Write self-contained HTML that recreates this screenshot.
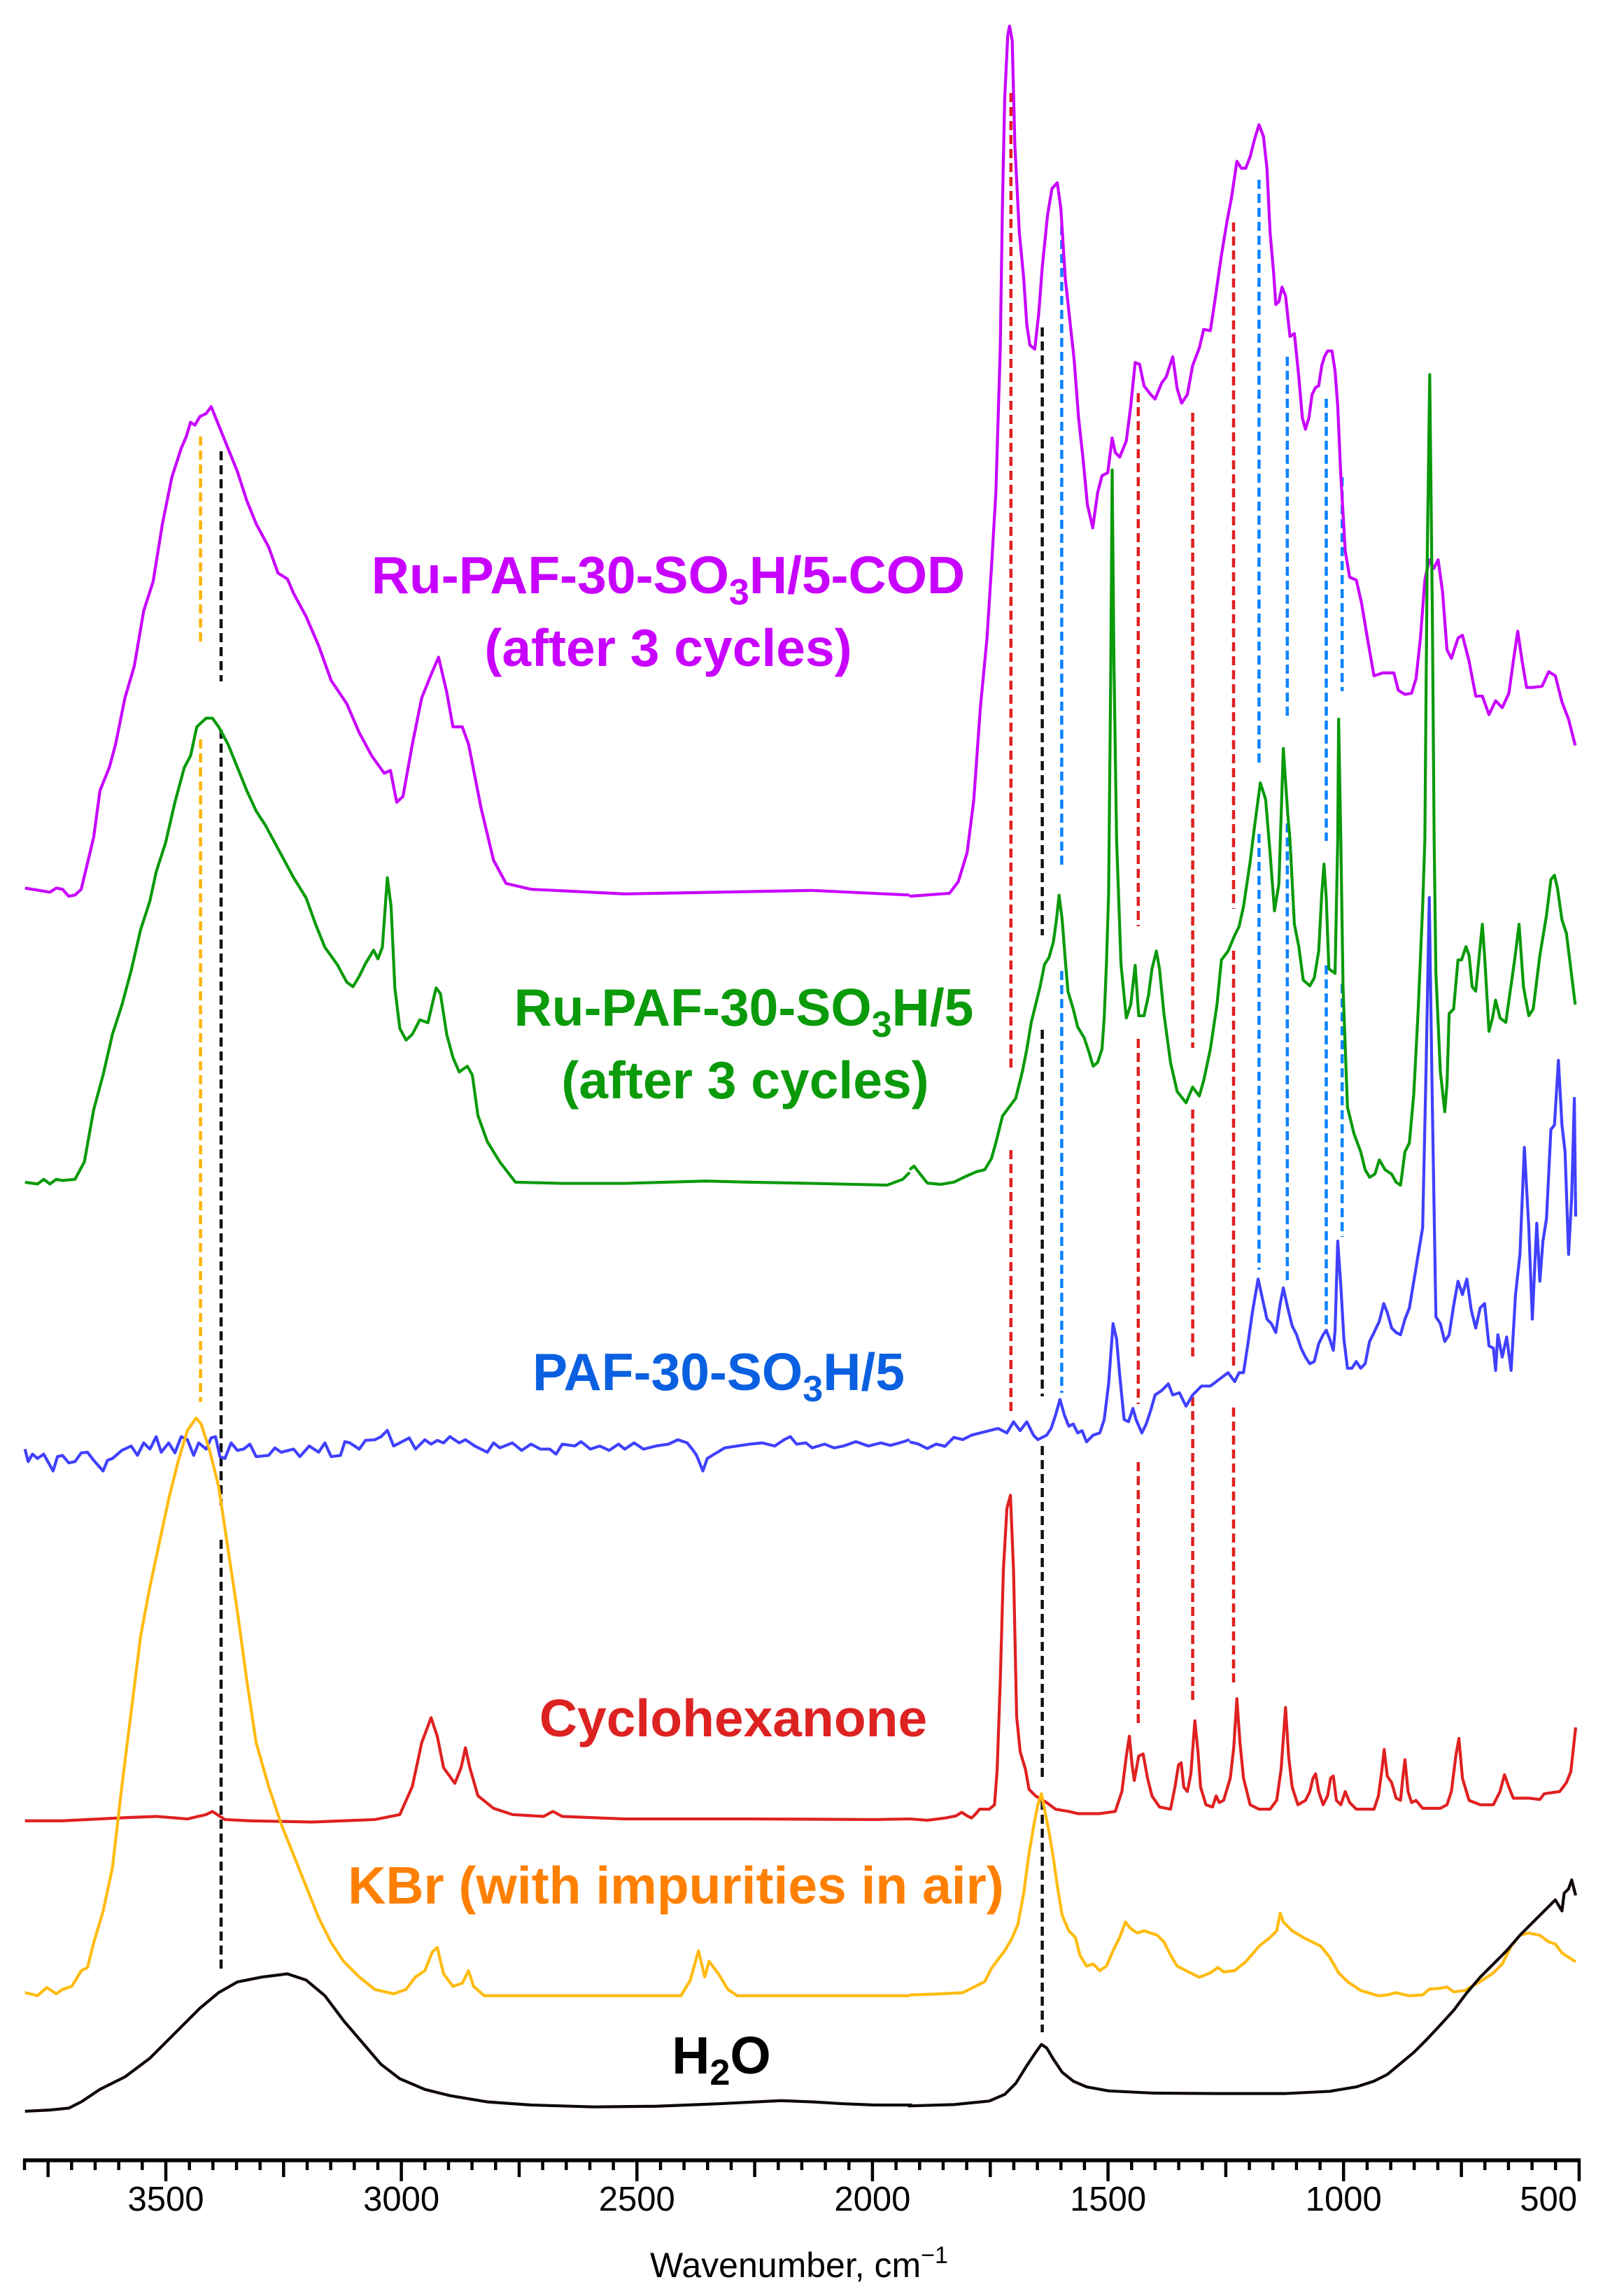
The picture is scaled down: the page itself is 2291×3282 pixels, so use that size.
<!DOCTYPE html>
<html><head><meta charset="utf-8"><style>
html,body{margin:0;padding:0;background:#fff;}
svg{display:block;}
text{font-family:"Liberation Sans",Arial,sans-serif;}
.c{fill:none;stroke-width:4.2;stroke-linejoin:round;vector-effect:non-scaling-stroke;}
.d{fill:none;stroke-width:4.5;stroke-dasharray:13 7;}
.lb{font-weight:bold;font-size:75px;text-anchor:middle;}
</style></head><body>
<svg width="2291" height="3282" viewBox="0 0 2291 3282" xmlns="http://www.w3.org/2000/svg">
<rect width="2291" height="3282" fill="#fff"/>

<g class="d" stroke="#ffb400">
<path d="M286.6 624V923M286.6 1057V2004"/>
</g>
<g class="d" stroke="#111">
<path d="M316 645V974M316 1043V2152M316 2201V2821"/>
<path d="M1489.6 468V1337M1489.6 1472V1996M1489.6 2067V2542M1489.6 2574V2905"/>
</g>
<g class="d" stroke="#e02020">
<path d="M1444.8 133V1528M1444.8 1644V2018"/>
<path d="M1626.8 562V1324M1626.8 1485V2007M1626.8 2090V2469"/>
<path d="M1704.6 590V1498M1704.6 1586V1946M1704.6 1997V2434"/>
<path d="M1763 318V1299M1763 1359V1959M1763 2012V2406"/>
</g>
<g class="d" stroke="#0a84ff">
<path d="M1517.4 323V1242M1517.4 1388V1991"/>
<path d="M1799.4 257V1095M1799.4 1192V1815"/>
<path d="M1839.8 510V1024M1839.8 1177V1835"/>
<path d="M1895.5 570V1202M1895.5 1380V1902"/>
<path d="M1918.2 682V988M1918.2 1407V1768"/>
</g>

<g transform="translate(0,500) scale(0.8929,0.8292)">
<path class="c" stroke="#c800ff" d="M40 928L80 935L90 928L100 930L110 942L120 940L130 930L150 840L160 760L175 720L185 680L200 600L215 545L230 450L245 400L260 300L275 220L290 170L298 150L305 125L312 130L320 115L330 110L338 98L350 130L365 170L380 210L395 260L410 300L420 320L430 340L445 385L460 395L470 420L490 460L510 510L530 570L555 610L575 660L595 700L615 730L625 725L635 780L645 770L660 680L675 600L690 560L702 530L715 590L725 650L740 650L750 680L770 790L790 880L810 920L850 930L1000 938L1300 932L1456 940"/>
</g>
<g transform="translate(1300,0) scale(0.6321,0.8292)">
<path class="c" stroke="#c800ff" d="M0 1545L90 1540L110 1520L130 1470L145 1380L160 1220L175 1100L185 980L195 850L205 600L210 350L215 170L222 60L226 45L232 70L238 250L248 400L258 480L265 560L272 595L283 602L292 540L300 460L312 370L322 325L334 315L342 360L352 480L362 550L372 620L382 720L392 790L402 870L414 910L425 850L435 820L448 815L458 755L465 780L475 788L490 760L500 700L510 625L520 628L530 665L545 680L555 688L570 660L580 650L595 615L605 670L615 695L628 680L640 630L655 600L665 568L680 570L690 520L705 440L718 380L728 340L740 278L750 290L760 290L770 270L780 240L790 215L800 235L808 290L815 400L823 470L828 525L835 520L842 495L850 510L860 580L870 575L880 650L888 720L895 740L903 720L910 680L918 668L925 665L932 630L938 615L945 605L955 605L962 640L968 700L975 820L985 950L995 995L1010 1000L1022 1040L1035 1100L1050 1165L1070 1160L1095 1160L1105 1190L1120 1197L1135 1195L1145 1170L1155 1100L1165 1000L1175 965L1185 980L1195 965L1205 1020L1215 1120L1225 1135L1240 1100L1250 1095L1265 1140L1280 1200L1295 1200L1310 1232L1325 1208L1340 1220L1355 1195L1365 1140L1375 1088L1385 1140L1395 1185L1410 1185L1430 1183L1445 1158L1460 1165L1475 1210L1490 1240L1505 1285"/>
</g>

<g transform="translate(0,500) scale(0.8929,0.8292)">
<path class="c" stroke="#0a9a0a" d="M40 1435L60 1438L70 1430L80 1438L90 1430L100 1432L120 1430L135 1400L150 1310L165 1250L180 1180L195 1130L210 1070L225 1000L240 950L250 900L265 850L280 780L295 720L305 700L315 650L330 635L340 635L350 650L365 680L380 720L395 760L410 795L425 820L440 850L455 880L470 910L490 945L505 990L520 1030L540 1060L555 1090L565 1098L575 1080L585 1058L598 1035L605 1050L612 1030L620 910L626 960L632 1100L640 1170L650 1190L660 1180L672 1155L685 1160L698 1100L705 1110L715 1180L725 1220L735 1245L748 1235L756 1250L765 1320L780 1365L800 1400L825 1435L900 1437L1000 1437L1130 1433L1200 1435L1300 1437L1420 1440L1445 1430L1456 1418"/>
</g>
<g transform="translate(1300,1200) scale(0.6321,0.6378)">
<path class="c" stroke="#0a9a0a" d="M0 740L10 732L20 745L40 770L70 773L100 768L125 756L150 745L170 740L185 715L195 680L210 620L225 600L240 580L255 520L265 470L275 410L285 370L295 330L305 280L315 265L325 230L332 180L338 125L345 180L352 270L358 340L370 380L380 420L395 445L405 475L415 508L425 500L435 470L440 400L445 280L450 120L455 -400L458 -828L462 -400L468 0L478 280L490 400L500 370L510 282L518 395L530 395L540 350L548 290L558 250L565 290L575 390L590 500L605 565L625 590L640 555L655 575L665 540L680 470L695 370L705 270L720 250L735 215L745 195L755 150L770 50L780 -30L793 -127L805 -90L815 30L825 160L835 100L845 -204L855 -57L860 0L870 190L880 240L890 315L905 328L915 310L925 250L932 120L937 55L942 130L948 290L962 300L968 0L970 -270L975 0L980 330L990 600L1005 660L1020 700L1030 740L1040 757L1052 750L1062 718L1075 740L1090 750L1100 768L1110 775L1120 700L1130 680L1140 570L1150 380L1160 150L1165 0L1170 -600L1176 -1042L1182 -500L1186 0L1190 300L1200 520L1210 610L1215 550L1220 390L1230 380L1240 270L1248 270L1258 240L1265 260L1272 330L1280 340L1295 190L1300 260L1310 430L1318 400L1325 360L1335 400L1348 410L1358 340L1368 270L1378 190L1388 330L1400 395L1410 380L1425 260L1440 170L1450 90L1458 80L1465 110L1475 180L1485 210L1495 290L1505 370"/>
</g>

<g transform="translate(0,1750) scale(0.8929)">
<path class="c" stroke="#4040ff" d="M40 360L45 380L52 368L60 375L70 368L85 395L92 372L100 370L110 382L120 380L130 366L140 365L150 378L165 395L172 378L180 375L195 362L210 355L220 370L230 350L240 360L250 340L258 365L270 350L280 366L290 340L300 345L310 370L318 350L330 360L338 342L345 340L352 372L360 375L370 350L380 362L390 360L400 352L410 372L430 370L440 358L450 365L470 360L480 372L495 355L510 365L520 350L530 372L545 370L552 348L560 350L575 360L585 346L600 345L610 340L620 330L630 355L640 350L655 342L665 360L680 345L690 352L700 346L710 350L720 340L735 350L745 345L760 355L770 360L780 365L790 350L800 358L820 350L835 362L850 352L865 360L880 360L890 368L900 352L920 355L930 348L945 360L960 355L975 362L990 352L1000 360L1015 350L1030 360L1050 355L1070 352L1085 345L1100 350L1108 360L1115 370L1125 395L1132 375L1140 370L1160 358L1180 355L1200 352L1220 350L1240 355L1255 345L1265 340L1275 352L1290 350L1300 358L1320 352L1335 358L1350 355L1370 348L1390 355L1410 350L1425 354L1440 350L1456 345"/>
</g>
<g transform="translate(1300,1200) scale(0.6321,0.6378)">
<path class="c" stroke="#4040ff" d="M0 1350L20 1355L40 1365L60 1355L80 1360L100 1340L120 1345L140 1335L160 1330L180 1325L200 1320L220 1330L235 1305L250 1325L265 1305L280 1335L290 1345L310 1335L320 1320L330 1290L340 1255L350 1290L360 1315L370 1310L380 1330L390 1325L400 1350L415 1335L430 1330L440 1300L450 1220L460 1085L468 1120L475 1200L485 1300L495 1305L505 1275L512 1300L525 1330L535 1310L545 1280L555 1245L570 1235L585 1220L595 1245L610 1240L625 1270L640 1245L660 1225L680 1225L700 1210L720 1195L735 1215L745 1195L755 1195L765 1130L775 1060L788 985L798 1030L808 1075L818 1085L828 1105L838 1040L845 1005L855 1050L865 1090L875 1110L885 1140L895 1160L905 1175L915 1170L925 1130L935 1110L942 1100L950 1120L958 1145L962 1100L968 900L975 1000L982 1120L990 1185L1000 1185L1010 1170L1020 1185L1030 1175L1040 1125L1050 1105L1062 1080L1072 1040L1080 1060L1090 1095L1100 1105L1110 1110L1120 1075L1130 1050L1140 990L1150 930L1160 870L1168 500L1175 130L1182 600L1190 1070L1200 1085L1210 1125L1220 1110L1230 1045L1240 990L1250 1020L1260 985L1270 1055L1280 1095L1290 1050L1300 1040L1310 1135L1320 1140L1325 1190L1330 1110L1340 1160L1350 1115L1360 1190L1370 1020L1380 930L1390 690L1400 870L1408 1075L1418 860L1425 990L1432 900L1440 850L1450 650L1458 640L1467 495L1475 640L1482 700L1490 930L1497 800L1503 580L1506 845"/>
</g>

<g transform="translate(0,1750) scale(0.8929)">
<path class="c" stroke="#e02020" d="M40 955L100 955L200 950L250 948L300 952L330 945L340 940L360 953L400 955L500 957L600 953L640 945L660 900L675 830L690 790L700 820L710 870L728 895L738 870L745 838L752 870L765 915L790 935L820 945L870 948L885 940L900 948L1000 952L1200 952L1400 953L1456 952"/>
</g>
<g transform="translate(1300,2150) scale(0.6321)">
<path class="c" stroke="#e02020" d="M0 712L40 715L80 710L105 705L118 697L130 705L140 710L150 700L158 690L180 690L192 680L198 600L205 400L212 150L220 10L228 -20L235 150L242 480L250 560L262 600L270 645L285 660L310 675L330 690L360 695L380 700L430 700L465 695L480 650L490 570L497 525L503 590L508 625L518 570L528 565L538 620L548 660L565 685L590 690L600 640L608 590L614 585L620 640L628 650L636 610L645 490L652 560L658 640L670 680L685 685L693 660L700 675L710 670L725 620L733 550L740 440L747 540L755 620L770 680L790 690L815 690L830 670L840 600L850 460L857 570L865 640L878 680L895 670L905 650L912 620L918 610L925 650L935 680L945 660L952 620L958 615L965 670L975 680L985 650L995 675L1010 690L1050 690L1060 660L1068 600L1073 555L1080 615L1090 630L1100 665L1110 670L1115 620L1120 578L1127 650L1135 675L1145 670L1160 688L1200 688L1215 680L1225 650L1235 570L1242 530L1250 620L1265 670L1290 680L1320 680L1335 650L1345 612L1355 640L1365 665L1400 665L1425 668L1435 655L1470 650L1485 630L1495 605L1500 560L1506 505"/>
</g>

<g transform="translate(0,1750) scale(0.8929)">
<path class="c" stroke="#ffbb10" d="M40 1230L60 1235L75 1222L90 1232L100 1225L115 1220L130 1195L140 1190L150 1150L165 1100L180 1030L195 900L210 780L225 660L240 580L255 510L270 440L285 380L300 330L314 310L322 320L335 360L350 420L365 520L380 620L395 730L410 830L430 900L450 960L470 1010L490 1060L510 1110L530 1150L550 1180L575 1205L600 1225L630 1232L650 1225L665 1205L680 1195L692 1165L700 1158L710 1200L725 1220L740 1215L750 1195L758 1220L775 1235L900 1235L1000 1235L1090 1235L1105 1210L1118 1163L1128 1205L1135 1180L1150 1200L1165 1225L1180 1235L1300 1235L1400 1235L1456 1235"/>
</g>
<g transform="translate(1300,2150) scale(0.6321)">
<path class="c" stroke="#ffbb10" d="M0 1110L60 1108L120 1105L150 1090L170 1080L185 1050L200 1030L215 1010L230 985L245 950L258 880L270 790L282 720L290 680L298 655L305 690L315 740L325 800L335 870L345 930L360 965L375 980L385 1020L400 1045L415 1040L430 1055L445 1045L460 1010L475 980L488 945L500 960L515 970L530 965L545 970L560 975L575 990L590 1020L605 1045L625 1055L655 1070L680 1060L697 1048L710 1058L735 1055L760 1035L790 1000L815 980L830 965L838 925L845 945L865 965L890 980L910 990L930 1000L950 1025L970 1060L990 1080L1020 1100L1060 1112L1080 1110L1100 1105L1130 1112L1160 1110L1175 1097L1200 1095L1215 1092L1230 1103L1255 1100L1290 1080L1320 1060L1340 1040L1360 1000L1380 975L1400 970L1425 975L1445 990L1460 995L1475 1015L1490 1025L1506 1035"/>
</g>

<g transform="translate(0,1750) scale(0.8929)">
<path class="c" stroke="#100808" d="M40 1420L80 1418L110 1415L130 1405L160 1385L200 1365L240 1335L280 1295L320 1255L350 1230L380 1213L420 1205L460 1200L490 1210L520 1235L550 1275L580 1310L610 1345L640 1368L680 1385L720 1395L780 1405L850 1410L950 1413L1050 1412L1150 1408L1250 1403L1300 1405L1350 1408L1400 1410L1460 1410"/>
</g>
<g transform="translate(1300,2150) scale(0.6321)">
<path class="c" stroke="#100808" d="M-4 1361L100 1358L180 1350L215 1335L240 1310L265 1270L285 1240L298 1222L310 1230L325 1255L345 1285L370 1305L400 1318L450 1327L550 1332L700 1333L850 1333L950 1328L1010 1318L1050 1305L1080 1290L1110 1265L1140 1240L1170 1210L1200 1178L1230 1145L1260 1105L1290 1070L1320 1040L1350 1010L1380 975L1400 955L1420 935L1440 915L1460 895L1475 920L1480 880L1490 870L1497 850L1506 885"/>
</g>

<text class="lb" x="955" y="848" fill="#c800ff">Ru-PAF-30-SO<tspan font-size="52" dy="16">3</tspan><tspan dy="-16">H/5-COD</tspan></text>
<text class="lb" x="955" y="952" fill="#c800ff">(after 3 cycles)</text>
<text class="lb" x="1063" y="1466" fill="#0a9a0a">Ru-PAF-30-SO<tspan font-size="52" dy="16">3</tspan><tspan dy="-16">H/5</tspan></text>
<text class="lb" x="1065" y="1570" fill="#0a9a0a">(after 3 cycles)</text>
<text class="lb" x="1027" y="1987" fill="#0a60e0">PAF-30-SO<tspan font-size="52" dy="16">3</tspan><tspan dy="-16">H/5</tspan></text>
<text class="lb" x="1048" y="2482" fill="#dd2222">Cyclohexanone</text>
<text class="lb" x="966" y="2721" fill="#ff8000">KBr (with impurities in air)</text>
<text class="lb" x="1031" y="2964" fill="#000">H<tspan font-size="52" dy="16">2</tspan><tspan dy="-16">O</tspan></text>

<line x1="33" y1="3088" x2="2259" y2="3088" stroke="#000" stroke-width="5.5"/>
<path stroke="#000" stroke-width="4.5" fill="none" d="M35 3088V3102M68.7 3088V3112M102.3 3088V3102M136 3088V3102M169.7 3088V3102M203.3 3088V3102M237 3088V3118M270.7 3088V3102M304.3 3088V3102M338 3088V3102M371.7 3088V3102M405.3 3088V3112M439 3088V3102M472.6 3088V3102M506.3 3088V3102M540 3088V3102M573.6 3088V3118M607.3 3088V3102M641 3088V3102M674.6 3088V3102M708.3 3088V3102M742 3088V3112M775.6 3088V3102M809.3 3088V3102M843 3088V3102M876.6 3088V3102M910.3 3088V3118M944 3088V3102M977.6 3088V3102M1011.3 3088V3102M1045 3088V3102M1078.6 3088V3112M1112.3 3088V3102M1145.9 3088V3102M1179.6 3088V3102M1213.3 3088V3102M1246.9 3088V3118M1280.6 3088V3102M1314.3 3088V3102M1347.9 3088V3102M1381.6 3088V3102M1415.3 3088V3112M1448.9 3088V3102M1482.6 3088V3102M1516.3 3088V3102M1549.9 3088V3102M1583.6 3088V3118M1617.3 3088V3102M1650.9 3088V3102M1684.6 3088V3102M1718.3 3088V3102M1751.9 3088V3112M1785.6 3088V3102M1819.2 3088V3102M1852.9 3088V3102M1886.6 3088V3102M1920.2 3088V3118M1953.9 3088V3102M1987.6 3088V3102M2021.2 3088V3102M2054.9 3088V3102M2088.6 3088V3112M2122.2 3088V3102M2155.9 3088V3102M2189.6 3088V3102M2223.2 3088V3102M2256.9 3088V3118"/>
<g font-size="49" fill="#000" text-anchor="middle">
<text x="237" y="3160">3500</text>
<text x="573.6" y="3160">3000</text>
<text x="910.3" y="3160">2500</text>
<text x="1246.9" y="3160">2000</text>
<text x="1583.6" y="3160">1500</text>
<text x="1920.2" y="3160">1000</text>
<text x="2254" y="3160" text-anchor="end">500</text>
</g>
<text x="1142" y="3255" font-size="50" text-anchor="middle" fill="#000">Wavenumber, cm<tspan font-size="34" dy="-20">−1</tspan></text>
</svg>
</body></html>
